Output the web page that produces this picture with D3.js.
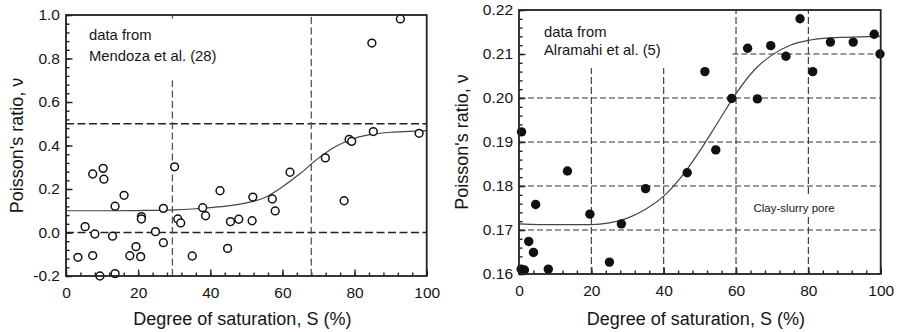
<!DOCTYPE html>
<html>
<head>
<meta charset="utf-8">
<script src="https://cdn.jsdelivr.net/npm/d3@7"></script>
<style>
  body { margin: 0; background: #fff; }
  svg { display: block; }
  text { font-family: "Liberation Sans", Arial, Helvetica, sans-serif; fill: #151515; }
</style>
</head>
<body>
<svg id="chart" width="898" height="332"></svg>
<script>
// Poisson's ratio vs. degree of saturation — Mendoza et al. (28)
const mendozaPoints = [
  [3.3,-0.114],[5.3,0.027],[7.4,0.269],[7.4,-0.106],[8.0,-0.007],[9.4,-0.200],
  [10.3,0.295],[10.5,0.245],[12.9,-0.017],[13.6,0.121],[13.6,-0.189],[16.1,0.171],
  [17.7,-0.107],[19.4,-0.065],[20.7,-0.111],[20.9,0.073],[20.9,0.062],[24.8,0.004],
  [27.0,0.111],[27.0,-0.047],[30.1,0.302],[31.0,0.062],[31.8,0.044],[35.0,-0.108],
  [37.9,0.114],[38.7,0.077],[42.7,0.192],[44.8,-0.073],[45.6,0.050],[47.9,0.061],
  [51.6,0.054],[51.8,0.163],[57.2,0.154],[58.0,0.099],[62.1,0.277],[71.9,0.343],
  [77.1,0.146],[78.5,0.428],[79.2,0.419],[84.8,0.871],[85.2,0.464],[92.7,0.982],
  [97.9,0.456]
];
const mendozaFit = [
  [0,0.100],[10,0.100],[20,0.101],[30,0.104],[35,0.108],[40,0.114],[45,0.122],
  [50,0.136],[55,0.160],[60,0.210],[65,0.272],[70,0.342],[75,0.398],[80,0.433],
  [85,0.452],[90,0.461],[95,0.465],[100,0.468]
];

// Poisson's ratio vs. degree of saturation — Alramahi et al. (5)
const alramahiPoints = [
  [0.7,0.1923],[0.6,0.1611],[1.5,0.1609],[2.7,0.1674],[4.0,0.1649],[4.6,0.1758],
  [8.1,0.1611],[13.4,0.1834],[19.6,0.1736],[25.0,0.1627],[28.3,0.1714],[35.0,0.1794],
  [46.5,0.1830],[51.4,0.2060],[54.4,0.1882],[58.8,0.1999],[63.2,0.2113],[65.9,0.1998],
  [69.6,0.2119],[73.8,0.2095],[77.7,0.2180],[81.2,0.2060],[86.1,0.2127],[92.4,0.2127],
  [98.2,0.2145],[99.8,0.2100]
];
const alramahiFit = [
  [0,0.1714],[10,0.1712],[20,0.1712],[25,0.1716],[30,0.1727],[35,0.1747],[40,0.1777],
  [45,0.1822],[50,0.1880],[55,0.1945],[60,0.2010],[65,0.2063],[70,0.2098],[75,0.2120],
  [80,0.2131],[85,0.2136],[90,0.2138],[100,0.2140]
];

// Axis ticks and labels
const xTicks = [0, 20, 40, 60, 80, 100];
const leftYTicks = [-0.2, 0.0, 0.2, 0.4, 0.6, 0.8, 1.0];
const leftYTickLabels = ["-0.2", "0.0", "0.2", "0.4", "0.6", "0.8", "1.0"];
const rightYTicks = [0.16, 0.17, 0.18, 0.19, 0.20, 0.21, 0.22];
const rightYTickLabels = ["0.16", "0.17", "0.18", "0.19", "0.20", "0.21", "0.22"];

// Reference guide lines
const leftHLines = [0.5, 0.0];
const leftVLines = [{ s: 29.5, from: -0.2, to: 0.7 }, { s: 68, from: -0.2, to: 1.0 }];
const rightHLines = [
  { v: 0.17, from: 0, to: 100 }, { v: 0.18, from: 0, to: 100 },
  { v: 0.19, from: 0, to: 100 }, { v: 0.20, from: 0, to: 100 },
  { v: 0.21, from: 59, to: 100 }
];
const rightVLines = [
  { s: 20, from: 0.16, to: 0.2068 }, { s: 40, from: 0.16, to: 0.2068 },
  { s: 60, from: 0.16, to: 0.22 }, { s: 80, from: 0.16, to: 0.22 }
];

const svg = d3.select("#chart");
const tickFont = 15.5, titleFont = 18;

function drawPanel(cfg) {
  const g = svg.append("g");
  const x = d3.scaleLinear().domain([0, 100]).range([cfg.left, cfg.right]);
  const y = d3.scaleLinear().domain(cfg.yDomain).range([cfg.bottom, cfg.top]);

  // minor ticks
  g.append("g").attr("transform", `translate(0,${cfg.bottom})`)
    .call(d3.axisBottom(x).tickValues(d3.range(0, 101, 4)).tickSize(-3.5).tickFormat(""))
    .call(a => a.select(".domain").remove())
    .call(a => a.selectAll("line").attr("stroke", "#222").attr("stroke-width", 1.4));
  g.append("g").attr("transform", `translate(${cfg.left},0)`)
    .call(d3.axisLeft(y).tickValues(cfg.yMinor).tickSize(-3.5).tickFormat(""))
    .call(a => a.select(".domain").remove())
    .call(a => a.selectAll("line").attr("stroke", "#222").attr("stroke-width", 1.4));

  // major ticks with labels
  g.append("g").attr("transform", `translate(0,${cfg.bottom})`)
    .call(d3.axisBottom(x).tickValues(xTicks).tickSize(-6.5).tickPadding(11)
      .tickFormat(d => String(d)))
    .call(a => a.select(".domain").remove())
    .call(a => a.selectAll("line").attr("stroke", "#222").attr("stroke-width", 1.4))
    .call(a => a.selectAll("text").attr("font-size", tickFont).attr("font-family", null).attr("fill", "#151515"));
  g.append("g").attr("transform", `translate(${cfg.left},0)`)
    .call(d3.axisLeft(y).tickValues(cfg.yTicks).tickSize(-6.5).tickPadding(6)
      .tickFormat((d, i) => cfg.yLabels[i]))
    .call(a => a.select(".domain").remove())
    .call(a => a.selectAll("line").attr("stroke", "#222").attr("stroke-width", 1.4))
    .call(a => a.selectAll("text").attr("font-size", tickFont).attr("font-family", null).attr("fill", "#151515"));

  return { g, x, y };
}

function frame(p, cfg) {
  p.g.append("rect")
    .attr("x", cfg.left).attr("y", cfg.top)
    .attr("width", cfg.right - cfg.left).attr("height", cfg.bottom - cfg.top)
    .attr("fill", "none").attr("stroke", "#222").attr("stroke-width", 1.8);
}

function titles(cfg) {
  svg.append("text")
    .attr("x", (cfg.left + cfg.right) / 2 - 4).attr("y", 325)
    .attr("text-anchor", "middle").attr("font-size", titleFont)
    .text("Degree of saturation, S (%)");
  svg.append("text")
    .attr("transform", `translate(${cfg.yTitleX},${(cfg.top + cfg.bottom) / 2}) rotate(-90)`)
    .attr("text-anchor", "middle").attr("font-size", titleFont)
    .text("Poisson's ratio, \u03bd");
}

// ---------- Left panel ----------
const L = {
  left: 66, right: 426.7, top: 15, bottom: 276,
  yDomain: [-0.2, 1.0], yTicks: leftYTicks, yLabels: leftYTickLabels,
  yMinor: d3.range(-5, 26).map(i => i * 0.04), yTitleX: 22.5
};
const pl = drawPanel(L);

pl.g.selectAll(".hl").data(leftHLines).join("line")
  .attr("x1", L.left).attr("x2", L.right)
  .attr("y1", d => pl.y(d)).attr("y2", d => pl.y(d))
  .attr("stroke", "#222").attr("stroke-width", 1.5).attr("stroke-dasharray", "8,3.5");
pl.g.selectAll(".vl").data(leftVLines).join("line")
  .attr("x1", d => pl.x(d.s)).attr("x2", d => pl.x(d.s))
  .attr("y1", d => pl.y(d.from)).attr("y2", d => pl.y(d.to))
  .attr("stroke", "#555").attr("stroke-width", 1.3).attr("stroke-dasharray", "7,3.5");
// short mark on the top edge above the first guide
pl.g.append("line")
  .attr("x1", pl.x(29.5)).attr("x2", pl.x(29.5))
  .attr("y1", L.top).attr("y2", L.top + 3.5)
  .attr("stroke", "#555").attr("stroke-width", 1.3);

pl.g.append("path").datum(mendozaFit)
  .attr("d", d3.line().x(d => pl.x(d[0])).y(d => pl.y(d[1])).curve(d3.curveMonotoneX))
  .attr("fill", "none").attr("stroke", "#444").attr("stroke-width", 1.2);

pl.g.selectAll(".pt").data(mendozaPoints).join("circle")
  .attr("cx", d => pl.x(d[0])).attr("cy", d => pl.y(d[1])).attr("r", 3.9)
  .attr("fill", "#fff").attr("stroke", "#111").attr("stroke-width", 1.5);

frame(pl, L);

const annL = svg.append("text").attr("font-size", 14.8);
annL.append("tspan").attr("x", 89).attr("y", 40).text("data from");
annL.append("tspan").attr("x", 89).attr("y", 61).text("Mendoza et al. (28)");
titles(L);

// ---------- Right panel ----------
const R = {
  left: 519, right: 880.7, top: 10, bottom: 274,
  yDomain: [0.16, 0.22], yTicks: rightYTicks, yLabels: rightYTickLabels,
  yMinor: d3.range(80, 111).map(i => i * 0.002), yTitleX: 467.5
};
const pr = drawPanel(R);

pr.g.selectAll(".hl").data(rightHLines).join("line")
  .attr("x1", d => pr.x(d.from)).attr("x2", d => pr.x(d.to))
  .attr("y1", d => pr.y(d.v)).attr("y2", d => pr.y(d.v))
  .attr("stroke", "#333").attr("stroke-width", 1.1).attr("stroke-dasharray", "6,3");
pr.g.selectAll(".vl").data(rightVLines).join("line")
  .attr("x1", d => pr.x(d.s)).attr("x2", d => pr.x(d.s))
  .attr("y1", d => pr.y(d.from)).attr("y2", d => pr.y(d.to))
  .attr("stroke", "#333").attr("stroke-width", 1.1).attr("stroke-dasharray", "7,3");

// label sits on a white patch over the guides
pr.g.append("rect").attr("x", 750).attr("y", 194).attr("width", 94).attr("height", 23).attr("fill", "#fff");
pr.g.append("text").attr("x", 753.5).attr("y", 211.5).attr("font-size", 11.5).text("Clay-slurry pore");

pr.g.append("path").datum(alramahiFit)
  .attr("d", d3.line().x(d => pr.x(d[0])).y(d => pr.y(d[1])).curve(d3.curveMonotoneX))
  .attr("fill", "none").attr("stroke", "#444").attr("stroke-width", 1.2);

pr.g.selectAll(".pt").data(alramahiPoints).join("circle")
  .attr("cx", d => pr.x(d[0])).attr("cy", d => pr.y(d[1])).attr("r", 4.7)
  .attr("fill", "#111");

frame(pr, R);

const annR = svg.append("text").attr("font-size", 14.8);
annR.append("tspan").attr("x", 544).attr("y", 37).text("data from");
annR.append("tspan").attr("x", 544).attr("y", 55).text("Alramahi et al. (5)");
titles(R);
</script>
</body>
</html>
